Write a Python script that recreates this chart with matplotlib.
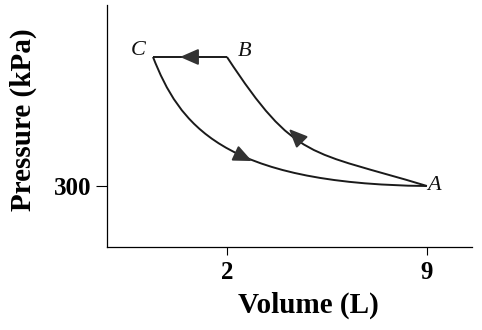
import matplotlib.pyplot as plt
from matplotlib.path import Path
from matplotlib.patches import PathPatch

plt.rcParams['font.family'] = ['Liberation Serif', 'DejaVu Serif']

# state points (volume L, pressure kPa) - schematic
V_A, P_A = 9, 300
V_B, P_B = 2, 1350
V_C, P_C = -0.59, 1350

# bezier control points of the curved legs
ab_ctrl = [(4.4, 500), (4.9, 590)]    # B -> A
ca_ctrl = [(0.32, 813), (1.77, 316)]   # C -> A

# arrowheads as (tail, tip)
arrows = [((4.59, 666), (4.17, 764)),
          ((0.88, 1350), (0.355, 1350)),
          ((2.385, 556), (2.875, 503))]

# point labels
labels = [('A', 9.25, 300), ('B', 2.63, 1395), ('C', -1.1, 1400)]

xticks = [2, 9]
yticks = [300]

fig = plt.figure(figsize=(4.82, 3.30), dpi=100)
ax = fig.add_axes([0.222, 0.2515, 0.757, 0.7335])

lc = '#1a1a1a'
lw = 1.4

# A -> B curve
verts = [(V_A, P_A), ab_ctrl[1], ab_ctrl[0], (V_B, P_B)]
codes = [Path.MOVETO, Path.CURVE4, Path.CURVE4, Path.CURVE4]
ax.add_patch(PathPatch(Path(verts, codes), fill=False, ec=lc, lw=lw))

# B -> C straight
ax.plot([V_B, V_C], [P_B, P_C], color=lc, lw=lw, solid_capstyle='butt')

# C -> A curve
verts = [(V_C, P_C), ca_ctrl[0], ca_ctrl[1], (V_A, P_A)]
ax.add_patch(PathPatch(Path(verts, codes), fill=False, ec=lc, lw=lw))

for tail, tip in arrows:
    ax.annotate('', xy=tip, xytext=tail,
                arrowprops=dict(arrowstyle='-|>,head_length=0.8,head_width=0.35',
                                color='#333333', lw=lw, shrinkA=0, shrinkB=0,
                                mutation_scale=14))

for s, x, y in labels:
    ax.text(x, y, s, fontsize=16, style='italic', ha='center', va='center', color='#111111')

ax.set_xlim(-2.2, 10.575)
ax.set_ylim(-196.5, 1773.3)
ax.set_xticks(xticks)
ax.set_yticks(yticks)
ax.set_xticklabels([str(t) for t in xticks], fontsize=18, fontweight='bold')
ax.set_yticklabels([str(t) for t in yticks], fontsize=18, fontweight='bold')
ax.tick_params(axis='x', direction='out', length=6, width=0.8, pad=4)
ax.tick_params(axis='y', direction='out', length=8, width=0.8, pad=3)

for side in ['top', 'right']:
    ax.spines[side].set_visible(False)
for side in ['left', 'bottom']:
    ax.spines[side].set_linewidth(0.9)

ax.set_xlabel('Volume (L)', fontsize=21, fontweight='bold', va='center')
ax.xaxis.set_label_coords(0.553, -0.24)
ax.set_ylabel('Pressure (kPa)', fontsize=21, fontweight='bold', va='center')
ax.yaxis.set_label_coords(-0.23, 0.525)

fig.savefig('out.png', dpi=100)
